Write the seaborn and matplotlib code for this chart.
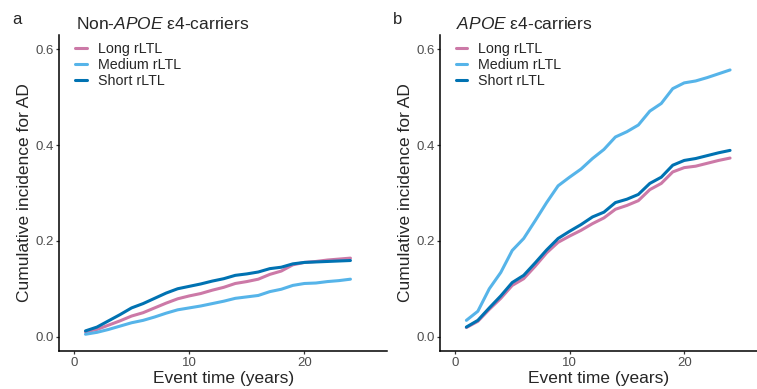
import numpy as np
import pandas as pd
import matplotlib
matplotlib.use("Agg")
import matplotlib.pyplot as plt
import seaborn as sns

# event time (years)
time = list(range(1, 25))

groups = ["Long rLTL", "Medium rLTL", "Short rLTL"]
colors = ["#CC79A7", "#56B4E9", "#0072B2"]

# Non-APOE e4-carriers
non_long = [0.010, 0.015, 0.024, 0.033, 0.043, 0.050, 0.060, 0.070, 0.079, 0.085, 0.090, 0.097,
            0.103, 0.111, 0.115, 0.120, 0.130, 0.137, 0.150, 0.155, 0.157, 0.160, 0.162, 0.164]
non_medium = [0.005, 0.009, 0.015, 0.022, 0.029, 0.034, 0.041, 0.049, 0.056, 0.060, 0.064, 0.069,
              0.074, 0.080, 0.083, 0.086, 0.094, 0.099, 0.107, 0.111, 0.112, 0.115, 0.117, 0.120]
non_short = [0.012, 0.020, 0.033, 0.046, 0.060, 0.069, 0.080, 0.091, 0.100, 0.105, 0.110, 0.116,
             0.121, 0.128, 0.131, 0.135, 0.142, 0.145, 0.152, 0.155, 0.156, 0.157, 0.158, 0.159]

# APOE e4-carriers
car_long = [0.019, 0.032, 0.057, 0.080, 0.107, 0.121, 0.147, 0.175, 0.197, 0.210, 0.222, 0.236,
            0.248, 0.266, 0.274, 0.284, 0.307, 0.320, 0.344, 0.353, 0.356, 0.362, 0.368, 0.373]
car_medium = [0.034, 0.053, 0.100, 0.134, 0.180, 0.205, 0.242, 0.280, 0.315, 0.333, 0.350, 0.372,
              0.391, 0.417, 0.428, 0.442, 0.471, 0.487, 0.518, 0.530, 0.534, 0.541, 0.549, 0.557]
car_short = [0.020, 0.034, 0.060, 0.085, 0.113, 0.128, 0.154, 0.181, 0.205, 0.220, 0.234, 0.250,
             0.260, 0.280, 0.287, 0.297, 0.320, 0.333, 0.358, 0.368, 0.372, 0.378, 0.384, 0.389]


def long_df(series):
    frames = []
    for name, vals in zip(groups, series):
        frames.append(pd.DataFrame({"time": time, "cuminc": vals, "group": name}))
    return pd.concat(frames, ignore_index=True)


sns.set_style("white")
plt.rcParams["font.family"] = ["Liberation Sans", "DejaVu Sans"]
plt.rcParams["mathtext.fontset"] = "custom"
plt.rcParams["mathtext.rm"] = "Liberation Sans"
plt.rcParams["mathtext.it"] = "Liberation Sans:italic"

fig = plt.figure(figsize=(7.57, 3.89), dpi=100)
W, H = 757, 389
ax1 = fig.add_axes([59 / W, (H - 351) / H, 328.3 / W, 316 / H])
ax2 = fig.add_axes([440 / W, (H - 351) / H, 317 / W, 316 / H])

panels = [
    (ax1, [non_long, non_medium, non_short], (-1.3, 27.2)),
    (ax2, [car_long, car_medium, car_short], (-1.3, 26.35)),
]

for ax, series, xl in panels:
    df = long_df(series)
    sns.lineplot(data=df, x="time", y="cuminc", hue="group", hue_order=groups,
                 palette=colors, linewidth=2.2, ax=ax)
    ax.set_xlim(*xl)
    ax.set_ylim(-0.03, 0.63)
    ax.set_xticks([0, 10, 20])
    ax.set_yticks([0.0, 0.2, 0.4, 0.6])
    ax.set_yticklabels(["0.0", "0.2", "0.4", "0.6"])
    for s in ["top", "right"]:
        ax.spines[s].set_visible(False)
    for s in ["left", "bottom"]:
        ax.spines[s].set_linewidth(1.1)
        ax.spines[s].set_color("black")
    ax.tick_params(axis="both", length=2.5, width=0.9, color="#333333",
                   labelsize=9.5, labelcolor="#4D4D4D", pad=1.5, left=True, bottom=True)
    ax.set_xlabel("Event time (years)", fontsize=12.5, labelpad=1.5)
    ax.set_ylabel("Cumulative incidence for AD", fontsize=12.5, labelpad=2.5)
    ax.legend(loc="upper left", bbox_to_anchor=(0.05, 0.977), frameon=False,
              fontsize=10.3, handlelength=0.8, handletextpad=0.75,
              labelspacing=0.12, borderpad=0, borderaxespad=0)

fig.text(12.7 / W, (H - 24) / H, "a", fontsize=12, va="baseline")
fig.text(393.3 / W, (H - 24) / H, "b", fontsize=12, va="baseline")
fig.text(75.7 / W, (H - 29.3) / H, r"Non-$\mathit{APOE}$ ε4-carriers", fontsize=12.5, va="baseline")
fig.text(455.7 / W, (H - 29.3) / H, r"$\mathit{APOE}$ ε4-carriers", fontsize=12.5, va="baseline")

fig.savefig("out.png", dpi=100)
